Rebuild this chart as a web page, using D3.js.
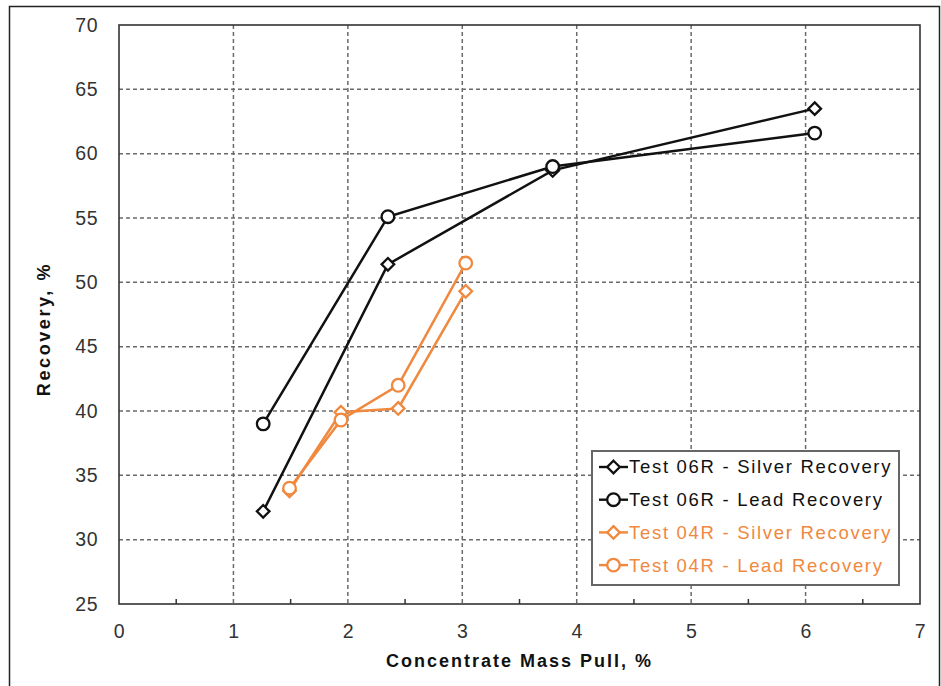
<!DOCTYPE html>
<meta charset="utf-8">
<style>
    body { margin: 0; background: #fff; }
    svg text { font-family: "Liberation Sans", Arial, sans-serif; }
    .tick text { font-size: 19.5px; fill: #333; letter-spacing: 0.5px; }
    .grid line { stroke: #6a6a6a; stroke-dasharray: 4,3; stroke-width: 1.5; }
    .title { font-size: 18px; font-weight: bold; letter-spacing: 2px; fill: #111; }
    .legend text { font-size: 18.5px; letter-spacing: 1.7px; }
</style>
<svg width="941" height="686"></svg>

<script src="https://d3js.org/d3.v7.min.js"></script>
<script>
    var xTicks = [0, 1, 2, 3, 4, 5, 6, 7];
    var yTicks = [25, 30, 35, 40, 45, 50, 55, 60, 65, 70];

    var s06Name = ["Test 06R - Silver Recovery", "Test 06R - Lead Recovery"];
    var s04Name = ["Test 04R - Silver Recovery", "Test 04R - Lead Recovery"];

    var pull06 = [1.26, 2.35, 3.79, 6.08];
    var silver06 = [32.2, 51.4, 58.7, 63.5];
    var lead06 = [39.0, 55.1, 59.0, 61.6];

    var pull04 = [1.49, 1.94, 2.44, 3.03];
    var silver04 = [33.8, 39.9, 40.2, 49.3];
    var lead04 = [34.0, 39.3, 42.0, 51.5];

    var black = "#111", orange = "#f0883e";

    var series = [
        { name: s06Name[0], x: pull06, y: silver06, color: black, shape: "diamond" },
        { name: s06Name[1], x: pull06, y: lead06, color: black, shape: "circle" },
        { name: s04Name[0], x: pull04, y: silver04, color: orange, shape: "diamond" },
        { name: s04Name[1], x: pull04, y: lead04, color: orange, shape: "circle" }
    ];

    var svg = d3.select("svg"),
        pLeft = 119, pRight = 920, pTop = 25, pBottom = 604;

    // outer chart frame
    svg.append("rect")
        .attr("x", 9.5).attr("y", 6.5)
        .attr("width", 930).attr("height", 700)
        .attr("fill", "none").attr("stroke", "#222").attr("stroke-width", 1.5);

    var x = d3.scaleLinear().domain([0, 7]).range([pLeft, pRight]);
    var y = d3.scaleLinear().domain([25, 70]).range([pBottom, pTop]);

    // grid
    var grid = svg.append("g").attr("class", "grid");
    grid.selectAll(".gx").data(xTicks.slice(1, -1)).enter().append("line")
        .attr("x1", function(d) { return x(d); }).attr("x2", function(d) { return x(d); })
        .attr("y1", pTop).attr("y2", pBottom);
    grid.selectAll(".gy").data(yTicks.slice(1, -1)).enter().append("line")
        .attr("y1", function(d) { return y(d); }).attr("y2", function(d) { return y(d); })
        .attr("x1", pLeft).attr("x2", pRight);

    // plot border
    svg.append("rect")
        .attr("x", pLeft).attr("y", pTop)
        .attr("width", pRight - pLeft).attr("height", pBottom - pTop)
        .attr("fill", "none").attr("stroke", "#333").attr("stroke-width", 1.6);

    // axes
    var xAxis = svg.append("g")
        .attr("transform", "translate(0," + pBottom + ")")
        .call(d3.axisBottom(x).tickValues(xTicks).tickFormat(d3.format("d")).tickSize(0).tickPadding(20));
    xAxis.select(".domain").remove();

    // minor ticks at half units
    svg.append("g").selectAll("line")
        .data(d3.range(0.5, 7, 1)).enter().append("line")
        .attr("x1", function(d) { return x(d); }).attr("x2", function(d) { return x(d); })
        .attr("y1", pBottom).attr("y2", pBottom - 5)
        .attr("stroke", "#333").attr("stroke-width", 1.5);

    var yAxis = svg.append("g")
        .attr("transform", "translate(" + pLeft + ",0)")
        .call(d3.axisLeft(y).tickValues(yTicks).tickFormat(d3.format("d")).tickSize(0).tickPadding(21));
    yAxis.select(".domain").remove();

    svg.append("text").attr("class", "title")
        .attr("x", (pLeft + pRight) / 2).attr("y", 667)
        .attr("text-anchor", "middle")
        .text("Concentrate Mass Pull, %");
    svg.append("text").attr("class", "title")
        .attr("transform", "translate(50,329) rotate(-90)")
        .attr("text-anchor", "middle")
        .style("letter-spacing", "2.6px")
        .text("Recovery, %");

    var line = d3.line();
    function marker(g, shape, color) {
        if (shape === "circle") {
            g.append("circle").attr("r", 6.3)
                .attr("fill", "#fff").attr("stroke", color).attr("stroke-width", 2.3);
        } else {
            g.append("path").attr("d", "M0,-6.3L6.3,0L0,6.3L-6.3,0Z")
                .attr("fill", "#fff").attr("stroke", color).attr("stroke-width", 2.3);
        }
    }

    series.forEach(function(s) {
        var pts = s.x.map(function(v, i) { return [x(v), y(s.y[i])]; });
        svg.append("path")
            .attr("d", line(pts))
            .attr("fill", "none").attr("stroke", s.color).attr("stroke-width", 2.5);
        pts.forEach(function(p) {
            marker(svg.append("g").attr("transform", "translate(" + p + ")"), s.shape, s.color);
        });
    });

    // legend
    var lg = svg.append("g").attr("class", "legend");
    lg.append("rect")
        .attr("x", 592).attr("y", 451).attr("width", 307).attr("height", 134)
        .attr("fill", "#fff").attr("stroke", "#666").attr("stroke-width", 2);
    series.forEach(function(s, i) {
        var yy = 467 + i * 32.7;
        lg.append("line").attr("x1", 599).attr("x2", 628)
            .attr("y1", yy).attr("y2", yy)
            .attr("stroke", s.color).attr("stroke-width", 2.4);
        marker(lg.append("g").attr("transform", "translate(613.5," + yy + ")"), s.shape, s.color);
        lg.append("text").attr("x", 629).attr("y", yy).attr("dy", "0.35em")
            .attr("fill", s.color).text(s.name);
    });
</script>
